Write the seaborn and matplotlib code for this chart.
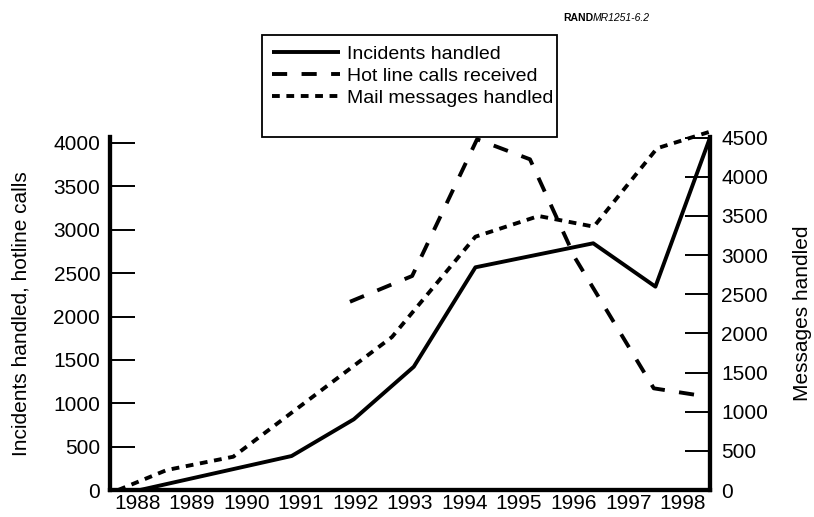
import matplotlib
matplotlib.use("Agg")
import matplotlib.pyplot as plt
import matplotlib.patches as patches
from matplotlib.ticker import FixedLocator
import seaborn as sns

# Values (x = position along the year axis)
incident_years = [1988.05, 1990.83, 1991.97, 1993.07, 1994.2, 1996.36, 1997.5, 1998.5]
incidents = [0, 392, 815, 1421, 2567, 2844, 2344, 4060]

hotline_years = [1991.9, 1993.04, 1994.23, 1995.2, 1996.03, 1997.47, 1998.45]
hotline_calls = [2170, 2467, 4043, 3812, 2671, 1172, 1076]

mail_years = [1987.65, 1988.54, 1989.76, 1992.67, 1994.2, 1995.36, 1996.37, 1997.53, 1998.5]
mail_messages = [0, 255, 425, 1954, 3235, 3499, 3363, 4364, 4576]

years = list(range(1988, 1999))
left_ticks = list(range(0, 4001, 500))
right_ticks = list(range(0, 4501, 500))
labels = ["Incidents handled", "Hot line calls received", "Mail messages handled"]

sns.set_style("white")
plt.rcParams['font.family'] = ['Liberation Sans', 'DejaVu Sans']
plt.rcParams.update({"text.color": "black", "axes.labelcolor": "black",
                     "xtick.color": "black", "ytick.color": "black"})

fig = plt.figure(figsize=(8.14, 5.17), dpi=100)
ax = fig.add_axes([0.1351, 0.0522, 0.7371, 0.6828])
ax2 = ax.twinx()

lw = 2.8
sns.lineplot(x=incident_years, y=incidents, ax=ax, color="black", lw=lw,
             sort=False, estimator=None, solid_capstyle="butt")
sns.lineplot(x=hotline_years, y=hotline_calls, ax=ax, color="black", lw=lw,
             sort=False, estimator=None, linestyle=(0, (3.9, 3.7)))
sns.lineplot(x=mail_years, y=mail_messages, ax=ax2, color="black", lw=lw,
             sort=False, estimator=None, linestyle=(0, (2.0, 1.7)), clip_on=False)

# axes ranges
ax.set_xlim(1987.5, 1998.5)
ax.set_ylim(0, 4069)
ax2.set_ylim(0, 4508)

# x: labels at year centres, inward tick marks between years
ax.set_xticks(years)
ax.set_xticklabels([str(y) for y in years], fontsize=15)
ax.xaxis.set_minor_locator(FixedLocator([y + 0.5 for y in years[:-1]]))
ax.tick_params(axis="x", which="major", length=0, pad=3)
ax.tick_params(axis="x", which="minor", direction="in", length=17, width=1.1, color="black")

ax.set_yticks(left_ticks)
ax.set_yticklabels([str(v) for v in left_ticks], fontsize=15)
ax.tick_params(axis="y", direction="in", length=18, width=1.4, pad=7, color="black", left=True)
ax2.set_yticks(right_ticks)
ax2.set_yticklabels([str(v) for v in right_ticks], fontsize=15)
ax2.tick_params(axis="y", direction="in", length=18, width=1.4, pad=8, color="black", right=True)

for a in (ax, ax2):
    a.spines["top"].set_visible(False)
    for s in ("left", "right", "bottom"):
        a.spines[s].set_linewidth(3)
        a.spines[s].set_color("black")
    a.set_facecolor("none")

ax.set_ylabel("Incidents handled, hotline calls", fontsize=15)
ax.yaxis.set_label_coords(-0.132, 0.5)
ax2.set_ylabel("Messages handled", fontsize=15)
ax2.yaxis.set_label_coords(1.139, 0.5)

# legend box above the plot
rect = patches.Rectangle((262 / 814, 1 - 137 / 517), 295 / 814, 102 / 517,
                         transform=fig.transFigure, fill=False,
                         edgecolor="black", linewidth=1.3)
fig.patches.append(rect)
handles = ax.lines[:2] + ax2.lines[:1]
fig.legend(handles, labels, loc="upper left", bbox_to_anchor=(272 / 814, 1 - 45 / 517),
           frameon=False, fontsize=14, handlelength=3.5, handletextpad=0.35,
           labelspacing=0.24, borderpad=0, borderaxespad=0)

# figure id
fig.text(593 / 814, 1 - 18 / 517, "RAND", fontsize=7.5, fontweight="bold", ha="right", va="center")
fig.text(593 / 814, 1 - 18 / 517, "MR1251-6.2", fontsize=7.5, style="italic", ha="left", va="center")

fig.patch.set_facecolor("white")
fig.savefig("out.png", dpi=100)
